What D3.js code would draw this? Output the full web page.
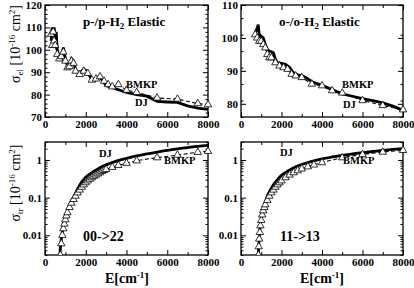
<!DOCTYPE html>
<html>
<head>
<meta charset="utf-8">
<script src="https://cdn.jsdelivr.net/npm/d3@7"></script>
<style>
  body { margin: 0; background: #fff; }
  svg { display: block; }
  .tick text { font-family: "Liberation Serif", serif; font-weight: bold; font-size: 11px; fill: #000; }
  .lbl { font-family: "Liberation Serif", serif; font-weight: bold; fill: #000; }
  .axlbl { font-family: "Liberation Serif", serif; fill: #000; }
</style>
</head>
<body>
<div id="chart"></div>
<script>
'use strict';

// ---- data ----
// p-/p-H2 elastic, E in cm^-1, sigma in 1e-16 cm^2
const ppDJ = [[300,104],[350,110],[400,106],[450,110],[500,104],[550,108],[600,100],[700,97],[800,96],
  [900,101],[1000,96],[1100,93],[1200,93],[1300,96],[1400,95],[1500,91],[1700,89.5],[1900,91.5],
  [2100,90],[2300,86.5],[2500,87],[2650,88],[2850,86],[3000,84],[3500,82.5],[4000,81],[4500,80],
  [5000,79.3],[5500,77],[6000,76.7],[6500,76.5],[7000,75],[7500,74],[8000,73.4]];
const ppBMKP = [[300,107],[350,102],[400,108],[450,104],[500,102],[600,98],[700,96],[800,97],[900,99],
  [1000,95],[1100,92],[1200,92.5],[1300,95],[1400,94],[1500,90.5],[1700,89],[1900,90.5],[2100,89.5],
  [2300,86.5],[2500,87],[2700,88],[2900,86],[3100,84.5],[3300,83.5],[3600,84.5],[4000,82],[4500,81],
  [5500,78.5],[6500,78],[7500,76],[8000,75.5]];

// o-/o-H2 elastic
const ooDJ = [[700,101.5],[800,103],[850,104],[900,101],[1000,100.5],[1100,100],[1200,98],[1300,96.5],
  [1400,96],[1500,95.8],[1600,95.5],[1700,93.5],[1800,92.5],[2000,92.3],[2200,92],[2400,91],[2600,89.3],
  [2800,88.8],[3000,88.6],[3200,88],[3500,86.7],[4000,85.6],[4500,84.3],[5000,83],[5500,82.3],
  [6000,81.6],[6500,81],[7000,80.3],[7500,79.3],[8000,78]];
const ooBMKP = [[700,101],[800,100],[900,99],[1000,99],[1100,98],[1200,97],[1300,95],[1400,94],[1500,94],
  [1700,92.5],[1900,91.5],[2100,91],[2300,90.5],[2500,89],[2700,88.5],[3000,88],[3500,86],[4000,85.5],
  [4500,84],[5000,83.3],[6000,81],[7000,79.5],[8000,78.2]];

// 00->22 transition
const trDJ00 = [[730,0.003],[760,0.005],[800,0.008],[850,0.012],[900,0.018],[1000,0.03],[1100,0.045],
  [1200,0.062],[1400,0.1],[1600,0.17],[1800,0.26],[2000,0.35],[2300,0.46],[2600,0.58],[3000,0.74],
  [3500,0.93],[4000,1.1],[4500,1.28],[5000,1.45],[5500,1.62],[6000,1.8],[6500,1.97],[7000,2.13],
  [7500,2.3],[8000,2.45]];
const trBMKP00 = [[750,0.003],[800,0.006],[850,0.01],[900,0.015],[950,0.02],[1000,0.026],[1050,0.033],
  [1100,0.04],[1200,0.055],[1300,0.072],[1400,0.09],[1500,0.11],[1600,0.135],[1700,0.16],[1800,0.19],
  [1900,0.22],[2000,0.25],[2100,0.28],[2200,0.31],[2300,0.34],[2400,0.37],[2500,0.4],[2600,0.43],
  [2700,0.46],[2800,0.5],[2900,0.53],[3000,0.56],[3300,0.64],[3600,0.72],[4000,0.82],[4500,0.95],
  [5500,1.15],[6500,1.35],[7500,1.6],[8000,1.7]];

// 11->13 transition
const trDJ13 = [[850,0.003],[880,0.006],[920,0.012],[970,0.022],[1030,0.035],[1100,0.05],[1200,0.075],
  [1300,0.11],[1450,0.16],[1600,0.22],[1800,0.3],[2000,0.39],[2300,0.5],[2600,0.62],[3000,0.76],
  [3500,0.92],[4000,1.07],[4500,1.2],[5000,1.33],[5500,1.45],[6000,1.57],[6500,1.68],[7000,1.8],
  [7500,1.9],[8000,2.0]];
const trBMKP13 = [[860,0.003],[880,0.005],[900,0.008],[930,0.012],[960,0.018],[1000,0.025],[1050,0.035],
  [1100,0.045],[1150,0.055],[1200,0.065],[1300,0.085],[1400,0.11],[1500,0.135],[1600,0.16],[1700,0.19],
  [1800,0.22],[1900,0.25],[2000,0.28],[2200,0.34],[2400,0.4],[2600,0.46],[2800,0.52],[3000,0.58],
  [3300,0.66],[3600,0.74],[4000,0.85],[5000,1.15],[6000,1.4],[7000,1.62],[8000,1.8]];

// tick values
const xMajor = [0, 2000, 4000, 6000, 8000];
const xMinor = [1000, 3000, 5000, 7000];
const ppTicks = [70, 80, 90, 100, 110, 120];
const ooTicks = [80, 90, 100, 110];
const logTicks = [0.01, 0.1, 1];

// ---- layout ----
const width = 414, height = 288;
const colL = [45, 208], colR = [241, 403];
const rowT = [5, 117], rowB = [142, 255];

let svg = d3.select('#chart').append('svg')
  .attr('width', width).attr('height', height);

let clipId = 0;

//one panel: frame, inward ticks on all four sides, two curves
function panel(o) {
  let x = d3.scaleLinear().domain([0, 8000]).range(o.xr);
  let y = o.log
    ? d3.scaleLog().domain([0.003, 3]).range([o.yr[1], o.yr[0]])
    : d3.scaleLinear().domain(o.ydom).range([o.yr[1], o.yr[0]]);

  let g = svg.append('g');
  let id = 'clip' + (clipId++);
  g.append('clipPath').attr('id', id).append('rect')
    .attr('x', o.xr[0] - 4).attr('y', o.yr[0])
    .attr('width', o.xr[1] - o.xr[0] + 8).attr('height', o.yr[1] - o.yr[0]);

  // minor y ticks
  let yMinor;
  if (o.log) {
    yMinor = [];
    [0.001, 0.01, 0.1, 1].forEach(d => { for (let k = 2; k <= 9; k++) yMinor.push(d * k); });
    yMinor = yMinor.filter(v => v >= 0.003 && v <= 3);
  } else {
    yMinor = d3.range(o.ydom[0], o.ydom[1] + 0.01, o.minorStep).filter(v => !o.yticks.includes(v));
  }

  let fmtLog = d => (d >= 1 ? d3.format('d')(d) : String(d));

  const axes = [
    [d3.axisBottom(x).tickValues(xMajor).tickSize(-5).tickPadding(3).tickFormat(d3.format('d')), `translate(0,${o.yr[1]})`, true],
    [d3.axisBottom(x).tickValues(xMinor).tickSize(-3).tickFormat(''), `translate(0,${o.yr[1]})`],
    [d3.axisTop(x).tickValues(xMajor).tickSize(-5).tickFormat(''), `translate(0,${o.yr[0]})`],
    [d3.axisTop(x).tickValues(xMinor).tickSize(-3).tickFormat(''), `translate(0,${o.yr[0]})`],
    [d3.axisLeft(y).tickValues(o.log ? logTicks : o.yticks).tickSize(-5).tickPadding(3)
      .tickFormat(o.log ? fmtLog : d3.format('d')), `translate(${o.xr[0]},0)`, true],
    [d3.axisLeft(y).tickValues(yMinor).tickSize(-2.5).tickFormat(''), `translate(${o.xr[0]},0)`],
    [d3.axisRight(y).tickValues(o.log ? logTicks : o.yticks).tickSize(-5).tickFormat(''), `translate(${o.xr[1]},0)`],
    [d3.axisRight(y).tickValues(yMinor).tickSize(-2.5).tickFormat(''), `translate(${o.xr[1]},0)`]
  ];
  axes.forEach(a => {
    let ag = g.append('g').attr('transform', a[1]).call(a[0]);
    ag.select('.domain').remove();
    ag.selectAll('line').attr('stroke', '#000').attr('stroke-width', 1);
    if (!a[2]) ag.selectAll('text').remove();
  });

  g.append('rect')
    .attr('x', o.xr[0]).attr('y', o.yr[0])
    .attr('width', o.xr[1] - o.xr[0]).attr('height', o.yr[1] - o.yr[0])
    .attr('fill', 'none').attr('stroke', '#000').attr('stroke-width', 1.3);

  let line = d3.line().x(d => x(d[0])).y(d => y(d[1]))
    .curve(o.log ? d3.curveMonotoneX : d3.curveLinear);
  let plot = g.append('g').attr('clip-path', `url(#${id})`);

  plot.append('path').datum(o.bmkp).attr('d', line)
    .attr('fill', 'none').attr('stroke', '#000').attr('stroke-width', 1.1)
    .attr('stroke-dasharray', '4,2.5');
  plot.append('path').datum(o.dj).attr('d', line)
    .attr('fill', 'none').attr('stroke', '#000').attr('stroke-width', 2.8);
  plot.selectAll('path.tri').data(o.bmkp).enter().append('path')
    .attr('class', 'tri')
    .attr('d', d3.symbol().type(d3.symbolTriangle).size(24))
    .attr('transform', d => `translate(${x(d[0])},${y(d[1])})`)
    .attr('fill', '#fff').attr('stroke', '#000').attr('stroke-width', 0.8);

  // curve labels
  o.texts.forEach(t => {
    g.append('text').attr('class', 'lbl')
      .attr('x', t[0]).attr('y', t[1]).style('font-size', t[3] + 'px').text(t[2]);
  });
  return g;
}

panel({ xr: colL, yr: rowT, ydom: [70, 120], yticks: ppTicks, minorStep: 2, dj: ppDJ, bmkp: ppBMKP,
  texts: [[126, 88, 'BMKP', 10.5], [135, 106, 'DJ', 10.5]] });
panel({ xr: colR, yr: rowT, ydom: [76, 110], yticks: ooTicks, minorStep: 5, dj: ooDJ, bmkp: ooBMKP,
  texts: [[342, 88, 'BMKP', 10.5], [343, 108, 'DJ', 10.5]] });
panel({ xr: colL, yr: rowB, log: true, dj: trDJ00, bmkp: trBMKP00,
  texts: [[99, 157, 'DJ', 10.5], [164, 164, 'BMKP', 10.5], [83, 241, '00->22', 14]] });
panel({ xr: colR, yr: rowB, log: true, dj: trDJ13, bmkp: trBMKP13,
  texts: [[280, 156, 'DJ', 10.5], [343, 164, 'BMKP', 10.5], [280, 241, '11->13', 14]] });

// titles with subscript
function title(xp, yp, pre) {
  let t = svg.append('text').attr('class', 'lbl').attr('x', xp).attr('y', yp).style('font-size', '13px');
  t.append('tspan').text(pre + 'H');
  t.append('tspan').attr('dy', 3).style('font-size', '9px').text('2');
  t.append('tspan').attr('dy', -3).text(' Elastic');
}
title(83, 26, 'p-/p-');
title(279, 26, 'o-/o-');

// rotated y labels: sigma_sub [10^-16 cm^2]
function ylabel(xp, yp, sub) {
  let t = svg.append('text').attr('class', 'axlbl')
    .attr('transform', `translate(${xp},${yp}) rotate(-90)`)
    .attr('text-anchor', 'middle').style('font-size', '14px');
  t.append('tspan').text('σ');
  t.append('tspan').attr('dy', 3).style('font-size', '9px').text(sub);
  t.append('tspan').attr('dy', -3).text(' [10');
  t.append('tspan').attr('dy', -5).style('font-size', '9px').text('-16');
  t.append('tspan').attr('dy', 5).text(' cm');
  t.append('tspan').attr('dy', -5).style('font-size', '9px').text('2');
  t.append('tspan').attr('dy', 5).text(']');
}
ylabel(20, 44, 'el');
ylabel(20, 183, 'tr');

// x labels
function xlabel(xp) {
  let t = svg.append('text').attr('class', 'lbl')
    .attr('x', xp).attr('y', 283).attr('text-anchor', 'middle').style('font-size', '14px');
  t.append('tspan').text('E[cm');
  t.append('tspan').attr('dy', -5).style('font-size', '9px').text('-1');
  t.append('tspan').attr('dy', 5).text(']');
}
xlabel(127);
xlabel(322);
</script>
</body>
</html>
